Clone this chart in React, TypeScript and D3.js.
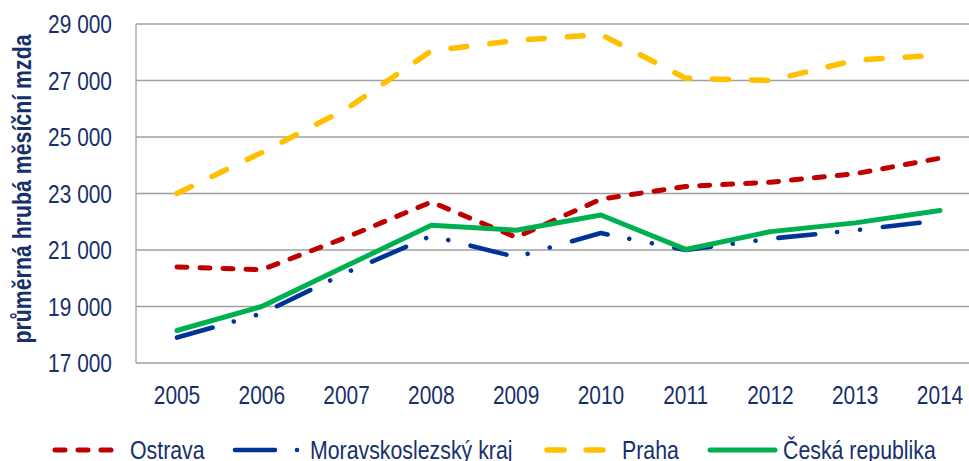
import React from "react";
import * as d3 from "d3";

const years = ["2005", "2006", "2007", "2008", "2009", "2010", "2011", "2012", "2013", "2014"];
const ostrava = [20400, 20300, 21450, 22700, 21450, 22800, 23250, 23400, 23700, 24250];
const msk = [17900, 18750, 20200, 21500, 20750, 21600, 21000, 21400, 21700, 22050];
const praha = [23000, 24450, 26000, 28050, 28420, 28630, 27080, 27000, 27720, 27900];
const cr = [18150, 19000, 20440, 21880, 21700, 22240, 21020, 21650, 21960, 22400];
const yTicks = [17000, 19000, 21000, 23000, 25000, 27000, 29000];
const yTitle = "průměrná hrubá měsíční mzda";

const W = 969;
const H = 461;
const FONT = "'Liberation Sans', Arial, sans-serif";
const TEXT = "#172f6b";
const GRID = "#a0a0a0";
const NARROW = 0.82;

const seriesDefs = [
  { name: "Ostrava", values: ostrava, color: "#c00000", width: 5, dash: "10 13" },
  { name: "Moravskoslezský kraj", values: msk, color: "#003399", width: 4.6, dash: "37 22 0.01 23 0.01 23" },
  { name: "Praha", values: praha, color: "#ffc000", width: 5.5, dash: "16 23" },
  { name: "Česká republika", values: cr, color: "#00b050", width: 5, dash: null },
];

function fmt(v: number) {
  const s = String(v);
  return s.slice(0, s.length - 3) + " " + s.slice(s.length - 3);
}

function NText(props: {
  x: number;
  y: number;
  rotate?: number;
  anchor?: string;
  size: number;
  bold?: boolean;
  dy?: string;
  children: React.ReactNode;
}) {
  const rot = props.rotate ? ` rotate(${props.rotate})` : "";
  return (
    <g transform={`translate(${props.x},${props.y})${rot} scale(${NARROW},1)`}>
      <text
        x={0}
        y={0}
        dy={props.dy}
        textAnchor={props.anchor || "start"}
        fontFamily={FONT}
        fontSize={props.size}
        fontWeight={props.bold ? "bold" : "normal"}
        fill={TEXT}
      >
        {props.children}
      </text>
    </g>
  );
}

export default function App() {
  const x = d3.scalePoint<string>().domain(years).range([177, 940]);
  const y = d3.scaleLinear().domain([17000, 29000]).range([363, 24]);
  const plotLeft = 136;
  const plotRight = 969;

  const line = d3
    .line<number>()
    .x((_, i) => x(years[i]) as number)
    .y((d) => y(d));

  const legendItems = [
    { s: seriesDefs[0], x1: 55, x2: 113, tx: 130, dash: "10 13" },
    { s: seriesDefs[1], x1: 235, x2: 299, tx: 310, dash: "40 22 0.01 100" },
    { s: seriesDefs[2], x1: 547, x2: 606, tx: 622, dash: "17 22" },
    { s: seriesDefs[3], x1: 710, x2: 775, tx: 783, dash: null },
  ];

  return (
    <svg
      width={W}
      height={H}
      style={{ position: "absolute", left: 0, top: 0, display: "block", background: "#fff" }}
    >
      <rect x={0} y={0} width={W} height={H} fill="#fff" />
      {yTicks.map((t) => (
        <line key={t} x1={plotLeft} x2={plotRight} y1={y(t)} y2={y(t)} stroke={GRID} strokeWidth={1.3} />
      ))}
      <line x1={plotLeft} x2={plotLeft} y1={y(29000)} y2={y(17000)} stroke={GRID} strokeWidth={1.3} />
      {yTicks.map((t) => (
        <NText key={"l" + t} x={112} y={y(t)} dy="0.36em" anchor="end" size={25.5}>
          {fmt(t)}
        </NText>
      ))}
      {years.map((yr) => (
        <NText key={yr} x={x(yr) as number} y={404} anchor="middle" size={25.5}>
          {yr}
        </NText>
      ))}
      <NText x={31} y={189} rotate={-90} anchor="middle" size={26} bold>
        {yTitle}
      </NText>
      {seriesDefs.map((s) => (
        <path
          key={s.name}
          d={line(s.values) || ""}
          fill="none"
          stroke={s.color}
          strokeWidth={s.width}
          strokeDasharray={s.dash || undefined}
          strokeLinecap="round"
          strokeLinejoin="round"
        />
      ))}
      {legendItems.map((it) => (
        <g key={it.s.name}>
          <line
            x1={it.x1}
            x2={it.x2}
            y1={450}
            y2={450}
            stroke={it.s.color}
            strokeWidth={it.s.width}
            strokeDasharray={it.dash || undefined}
            strokeLinecap="round"
          />
          <NText x={it.tx} y={459} size={26}>
            {it.s.name}
          </NText>
        </g>
      ))}
    </svg>
  );
}
